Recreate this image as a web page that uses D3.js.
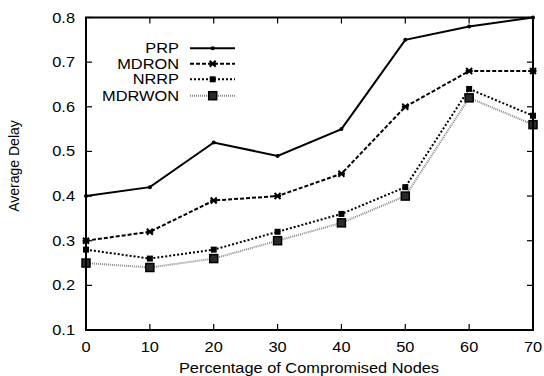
<!DOCTYPE html>
<html><head><meta charset="utf-8">
<script src="https://cdn.jsdelivr.net/npm/d3@7"></script>
<style>body{margin:0;background:#fff}svg{display:block}text{font-family:"Liberation Sans",Arial,sans-serif;fill:#000}</style>
</head><body>
<svg id="c" width="544" height="376"></svg>
<script>
const xValues = [0, 10, 20, 30, 40, 50, 60, 70];
const prp    = [0.40, 0.42, 0.52, 0.49, 0.55, 0.75, 0.78, 0.80];
const mdron  = [0.30, 0.32, 0.39, 0.40, 0.45, 0.60, 0.68, 0.68];
const nrrp   = [0.28, 0.26, 0.28, 0.32, 0.36, 0.42, 0.64, 0.58];
const mdrwon = [0.25, 0.24, 0.26, 0.30, 0.34, 0.40, 0.62, 0.56];
const seriesNames = ["PRP", "MDRON", "NRRP", "MDRWON"];
const xTicks = [0, 10, 20, 30, 40, 50, 60, 70];
const yTicks = [0.1, 0.2, 0.3, 0.4, 0.5, 0.6, 0.7, 0.8];

const L = 86, R = 533, T = 17.5, B = 330;
const SX = 1.17;
const svg = d3.select("#c");
const x = d3.scaleLinear().domain([0, 70]).range([L, R]);
const y = d3.scaleLinear().domain([0.1, 0.8]).range([B, T]);

function txt(g, xp, yp, s, anchor, size) {
  return g.append("text")
    .attr("transform", `translate(${xp},${yp}) scale(${SX},1)`)
    .attr("text-anchor", anchor).attr("font-size", size).text(s);
}

// ticks (inward, mirrored)
const tk = svg.append("g").attr("stroke", "#000").attr("stroke-width", 1.2);
yTicks.forEach(v => {
  tk.append("line").attr("x1", L).attr("x2", L + 6).attr("y1", y(v)).attr("y2", y(v));
  tk.append("line").attr("x1", R).attr("x2", R - 6).attr("y1", y(v)).attr("y2", y(v));
});
xTicks.forEach(v => {
  tk.append("line").attr("x1", x(v)).attr("x2", x(v)).attr("y1", B).attr("y2", B - 6);
  tk.append("line").attr("x1", x(v)).attr("x2", x(v)).attr("y1", T).attr("y2", T + 6);
});

// tick labels
const lab = svg.append("g");
yTicks.forEach(v => txt(lab, 75, y(v) + 5, d3.format(".1f")(v), "end", 14));
xTicks.forEach(v => txt(lab, x(v), 351.5, String(v), "middle", 14));

// axis titles
txt(svg, 309, 372.5, "Percentage of Compromised Nodes", "middle", 14);
svg.append("text").attr("transform", "translate(19,166) rotate(-90)")
  .attr("text-anchor", "middle").attr("font-size", 14).text("Average Delay");

const styles = [
  {data: prp, color: "#000", dash: null, w: 2, marker: "dot"},
  {data: mdron, color: "#000", dash: "4,2", w: 2, marker: "star"},
  {data: nrrp, color: "#000", dash: "2,2", w: 2, marker: "sq"},
  {data: mdrwon, color: "#888", dash: "1,1", w: 2, marker: "bigsq"}
];

function drawMarker(g, kind, cx, cy) {
  if (kind === "dot") {
    g.append("circle").attr("cx", cx).attr("cy", cy).attr("r", 2).attr("fill", "#000");
  } else if (kind === "star") {
    g.append("path").attr("d", `M${cx-3},${cy-3}L${cx+3},${cy+3}M${cx-3},${cy+3}L${cx+3},${cy-3}M${cx-3.5},${cy}L${cx+3.5},${cy}`)
      .attr("stroke", "#000").attr("stroke-width", 2);
  } else if (kind === "sq") {
    g.append("rect").attr("x", cx - 3).attr("y", cy - 3).attr("width", 6).attr("height", 6).attr("fill", "#000");
  } else {
    g.append("rect").attr("x", cx - 4).attr("y", cy - 4).attr("width", 8).attr("height", 8)
      .attr("fill", "#2a2a2a").attr("stroke", "#000").attr("stroke-width", 1.5);
  }
}

const line = d3.line().x((d, i) => x(xValues[i])).y(d => y(d));
styles.slice().reverse().forEach(s => {
  const g = svg.append("g");
  g.append("path").attr("d", line(s.data)).attr("fill", "none")
    .attr("stroke", s.color).attr("stroke-width", s.w)
    .attr("stroke-dasharray", s.dash);
  s.data.forEach((v, i) => drawMarker(g, s.marker, x(xValues[i]), y(v)));
});

// legend
const legY = [48.3, 63.7, 79.3, 95.7];
seriesNames.forEach((n, i) => {
  const s = styles[i];
  const g = svg.append("g");
  txt(g, 179, legY[i] + 5, n, "end", 14);
  g.append("line").attr("x1", 190).attr("x2", 235).attr("y1", legY[i]).attr("y2", legY[i])
    .attr("stroke", s.color).attr("stroke-width", s.w).attr("stroke-dasharray", s.dash);
  drawMarker(g, s.marker, 212.7, legY[i]);
});

// frame
svg.append("rect").attr("x", L).attr("y", T).attr("width", R - L).attr("height", B - T)
  .attr("fill", "none").attr("stroke", "#000").attr("stroke-width", 2);
</script>
</body></html>
